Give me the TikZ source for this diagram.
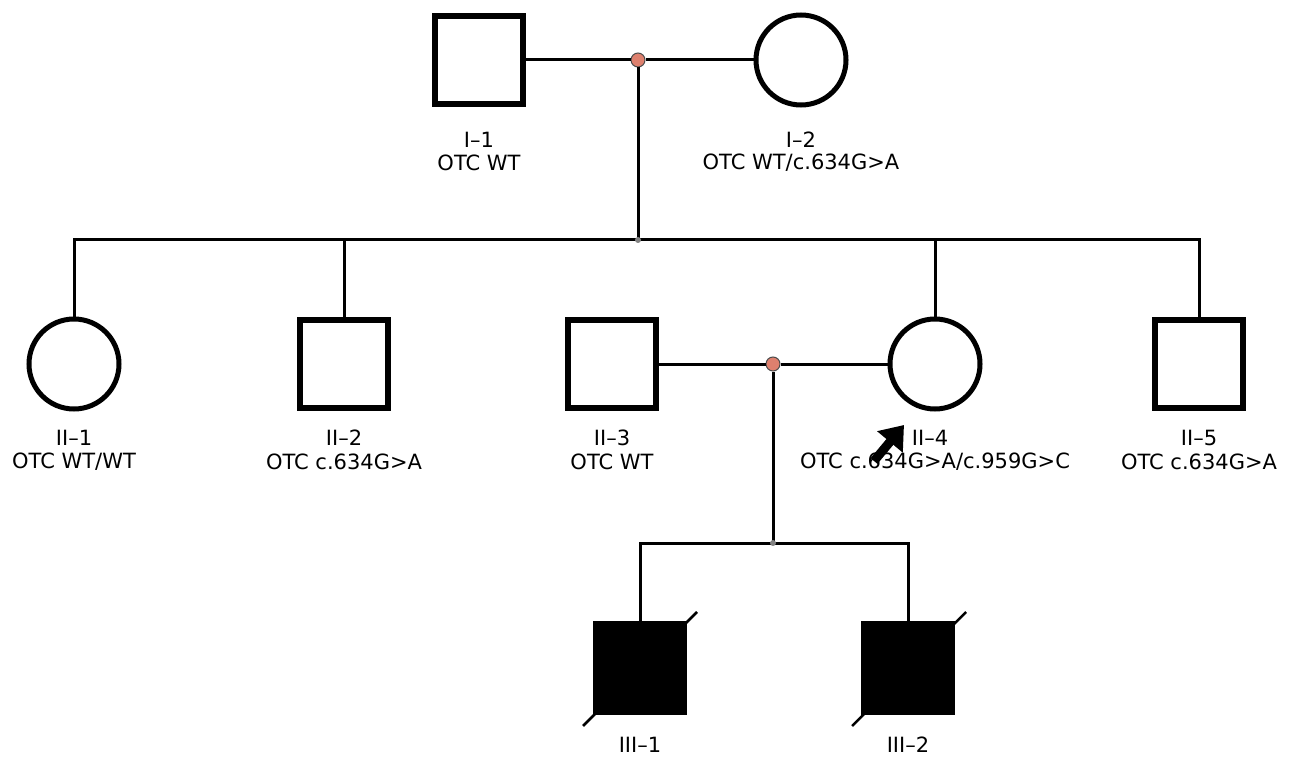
\documentclass[tikz,border=0pt]{standalone}
\usepackage{fontspec}
\setmainfont{DejaVu Sans}
\usetikzlibrary{arrows.meta}
\definecolor{mdot}{RGB}{222,128,110}
\definecolor{sdot}{RGB}{130,130,130}
\begin{document}
\begin{tikzpicture}[x=1pt,y=-1pt,
  male/.style={draw,line width=6pt,rectangle,minimum size=88pt,inner sep=0pt},
  female/.style={draw,line width=5pt,circle,minimum size=90pt,inner sep=0pt},
  affected/.style={draw,rectangle,minimum size=93pt,inner sep=0pt,fill=black,line width=1pt},
  link/.style={line width=3pt},
  mdotst/.style={circle,fill=mdot,draw=black!70,line width=1pt,minimum size=14pt,inner sep=0pt},
  sdotst/.style={circle,fill=sdot,minimum size=6pt,inner sep=0pt},
  lab/.style={font=\fontsize{21}{24}\selectfont,align=center,inner sep=0pt}]
\useasboundingbox (0,0) rectangle (1292,759);
% generation I
\node[male] (I1) at (479,60) {};
\node[female] (I2) at (801,60) {};
\node[mdotst] (m1) at (638,60) {};
\draw[link] (I1.east) -- (m1.west);
\draw[link] (m1.east) -- (I2.west);
\node[lab] (lI1) at (479,140) {I–1};
\node[lab] (tI1) at (479,163) {OTC WT};
\node[lab] (lI2) at (801,140) {I–2};
\node[lab] (tI2) at (801,163) {OTC WT/c.634G>A};
% generation II
\node[female] (II1) at (74,364) {};
\node[male] (II2) at (344,364) {};
\node[male] (II3) at (612,364) {};
\node[female] (II4) at (935,364) {};
\node[male] (II5) at (1199,364) {};
\coordinate (s1) at (638,240);
\draw[link] (m1.south) -- (s1);
\draw[link] (II1.north) -- (II1.north |- s1) -- (II5.north |- s1) -- (II5.north);
\draw[link] (II2.north) -- (II2.north |- s1);
\draw[link] (II4.north) -- (II4.north |- s1);
\node[sdotst] (sd1) at (s1) {};
\node[mdotst] (m2) at (773,364) {};
\draw[link] (II3.east) -- (m2.west);
\draw[link] (m2.east) -- (II4.west);
\node[lab] (lII1) at (74,438) {II–1};
\node[lab] (tII1) at (74,462) {OTC WT/WT};
\node[lab] (lII2) at (344,438) {II–2};
\node[lab] (tII2) at (344,462) {OTC c.634G>A};
\node[lab] (lII3) at (612,438) {II–3};
\node[lab] (tII3) at (612,462) {OTC WT};
\node[lab] (lII4) at (930,438) {II–4};
\node[lab] (tII4) at (935,462) {OTC c.634G>A/c.959G>C};
\node[lab] (lII5) at (1199,438) {II–5};
\node[lab] (tII5) at (1199,462) {OTC c.634G>A};
% proband arrow
\coordinate (pa) at (874,461);
\coordinate (pb) at (904,425);
\draw[line width=9pt,-{Triangle[length=22pt,width=32pt]}] (pa) -- (pb);
% generation III
\coordinate (s2) at (773,543);
\draw[link] (m2.south) -- (s2);
\draw[line width=2.5pt] (583,726) -- (697,612);
\draw[line width=2.5pt] (852,726) -- (966,612);
\node[affected] (III1) at (640,668) {};
\node[affected] (III2) at (908,668) {};
\draw[link] (III1.north) -- (III1.north |- s2) -- (III2.north |- s2) -- (III2.north);
\node[sdotst] (sd2) at (s2) {};
\node[lab] (lIII1) at (640,745) {III–1};
\node[lab] (lIII2) at (908,745) {III–2};
\end{tikzpicture}
\end{document}
